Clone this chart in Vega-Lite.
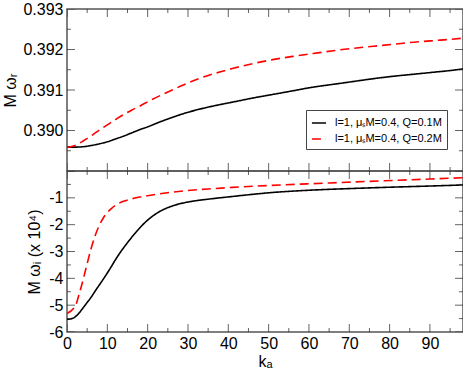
{
  "$schema": "https://vega.github.io/schema/vega-lite/v6.json",
  "padding": {"left": 2, "top": 0, "right": 1, "bottom": 0},
  "spacing": 0,
  "bounds": "flush",
  "datasets": {
    "xt": [
      {"t":0,"m":"major"},{"t":5,"m":"minor"},{"t":10,"m":"major"},{"t":15,"m":"minor"},{"t":20,"m":"major"},{"t":25,"m":"minor"},{"t":30,"m":"major"},{"t":35,"m":"minor"},{"t":40,"m":"major"},{"t":45,"m":"minor"},{"t":50,"m":"major"},{"t":55,"m":"minor"},{"t":60,"m":"major"},{"t":65,"m":"minor"},{"t":70,"m":"major"},{"t":75,"m":"minor"},{"t":80,"m":"major"},{"t":85,"m":"minor"},{"t":90,"m":"major"},{"t":95,"m":"minor"}
    ],
    "ytTop": [
      {"t":0.389,"m":"major"},{"t":0.3895,"m":"minor"},{"t":0.39,"m":"major"},{"t":0.3905,"m":"minor"},{"t":0.391,"m":"major"},{"t":0.3915,"m":"minor"},{"t":0.392,"m":"major"},{"t":0.3925,"m":"minor"},{"t":0.393,"m":"major"}
    ],
    "ytBot": [
      {"t":-6,"m":"major"},{"t":-5.5,"m":"minor"},{"t":-5,"m":"major"},{"t":-4.5,"m":"minor"},{"t":-4,"m":"major"},{"t":-3.5,"m":"minor"},{"t":-3,"m":"major"},{"t":-2.5,"m":"minor"},{"t":-2,"m":"major"},{"t":-1.5,"m":"minor"},{"t":-1,"m":"major"},{"t":-0.5,"m":"minor"},{"t":0,"m":"major"}
    ],
    "top": [
      {"k":0,"v":0.38959,"s":"l=1, μₛM=0.4, Q=0.1M"},{"k":2,"v":0.38959,"s":"l=1, μₛM=0.4, Q=0.1M"},{"k":4,"v":0.3896,"s":"l=1, μₛM=0.4, Q=0.1M"},{"k":6,"v":0.38963,"s":"l=1, μₛM=0.4, Q=0.1M"},{"k":8,"v":0.38967,"s":"l=1, μₛM=0.4, Q=0.1M"},{"k":10,"v":0.38972,"s":"l=1, μₛM=0.4, Q=0.1M"},{"k":12,"v":0.38979,"s":"l=1, μₛM=0.4, Q=0.1M"},{"k":14,"v":0.38986,"s":"l=1, μₛM=0.4, Q=0.1M"},{"k":16,"v":0.38994,"s":"l=1, μₛM=0.4, Q=0.1M"},{"k":18,"v":0.39002,"s":"l=1, μₛM=0.4, Q=0.1M"},{"k":20,"v":0.39009,"s":"l=1, μₛM=0.4, Q=0.1M"},{"k":23,"v":0.39021,"s":"l=1, μₛM=0.4, Q=0.1M"},{"k":26,"v":0.39032,"s":"l=1, μₛM=0.4, Q=0.1M"},{"k":29,"v":0.39042,"s":"l=1, μₛM=0.4, Q=0.1M"},{"k":33,"v":0.39053,"s":"l=1, μₛM=0.4, Q=0.1M"},{"k":37,"v":0.39062,"s":"l=1, μₛM=0.4, Q=0.1M"},{"k":41,"v":0.3907,"s":"l=1, μₛM=0.4, Q=0.1M"},{"k":46,"v":0.3908,"s":"l=1, μₛM=0.4, Q=0.1M"},{"k":51,"v":0.39089,"s":"l=1, μₛM=0.4, Q=0.1M"},{"k":56,"v":0.39098,"s":"l=1, μₛM=0.4, Q=0.1M"},{"k":61,"v":0.39107,"s":"l=1, μₛM=0.4, Q=0.1M"},{"k":66,"v":0.39114,"s":"l=1, μₛM=0.4, Q=0.1M"},{"k":71,"v":0.39121,"s":"l=1, μₛM=0.4, Q=0.1M"},{"k":76,"v":0.39128,"s":"l=1, μₛM=0.4, Q=0.1M"},{"k":81,"v":0.39134,"s":"l=1, μₛM=0.4, Q=0.1M"},{"k":86,"v":0.39139,"s":"l=1, μₛM=0.4, Q=0.1M"},{"k":91,"v":0.39144,"s":"l=1, μₛM=0.4, Q=0.1M"},{"k":95,"v":0.39148,"s":"l=1, μₛM=0.4, Q=0.1M"},{"k":98.2,"v":0.39152,"s":"l=1, μₛM=0.4, Q=0.1M"},
      {"k":0,"v":0.38958,"s":"l=1, μₛM=0.4, Q=0.2M"},{"k":2,"v":0.38963,"s":"l=1, μₛM=0.4, Q=0.2M"},{"k":4,"v":0.38974,"s":"l=1, μₛM=0.4, Q=0.2M"},{"k":6,"v":0.38987,"s":"l=1, μₛM=0.4, Q=0.2M"},{"k":8,"v":0.39001,"s":"l=1, μₛM=0.4, Q=0.2M"},{"k":10,"v":0.39014,"s":"l=1, μₛM=0.4, Q=0.2M"},{"k":12,"v":0.39027,"s":"l=1, μₛM=0.4, Q=0.2M"},{"k":14,"v":0.39039,"s":"l=1, μₛM=0.4, Q=0.2M"},{"k":16,"v":0.3905,"s":"l=1, μₛM=0.4, Q=0.2M"},{"k":18,"v":0.3906,"s":"l=1, μₛM=0.4, Q=0.2M"},{"k":21,"v":0.39076,"s":"l=1, μₛM=0.4, Q=0.2M"},{"k":25,"v":0.39095,"s":"l=1, μₛM=0.4, Q=0.2M"},{"k":29,"v":0.39113,"s":"l=1, μₛM=0.4, Q=0.2M"},{"k":33,"v":0.39129,"s":"l=1, μₛM=0.4, Q=0.2M"},{"k":37,"v":0.39142,"s":"l=1, μₛM=0.4, Q=0.2M"},{"k":41,"v":0.39153,"s":"l=1, μₛM=0.4, Q=0.2M"},{"k":46,"v":0.39165,"s":"l=1, μₛM=0.4, Q=0.2M"},{"k":51,"v":0.39175,"s":"l=1, μₛM=0.4, Q=0.2M"},{"k":56,"v":0.39183,"s":"l=1, μₛM=0.4, Q=0.2M"},{"k":61,"v":0.3919,"s":"l=1, μₛM=0.4, Q=0.2M"},{"k":66,"v":0.39197,"s":"l=1, μₛM=0.4, Q=0.2M"},{"k":71,"v":0.39203,"s":"l=1, μₛM=0.4, Q=0.2M"},{"k":76,"v":0.39208,"s":"l=1, μₛM=0.4, Q=0.2M"},{"k":81,"v":0.39213,"s":"l=1, μₛM=0.4, Q=0.2M"},{"k":86,"v":0.39218,"s":"l=1, μₛM=0.4, Q=0.2M"},{"k":91,"v":0.39222,"s":"l=1, μₛM=0.4, Q=0.2M"},{"k":95,"v":0.39225,"s":"l=1, μₛM=0.4, Q=0.2M"},{"k":98.2,"v":0.39228,"s":"l=1, μₛM=0.4, Q=0.2M"}
    ],
    "bot": [
      {"k":0,"v":-5.53,"s":"l=1, μₛM=0.4, Q=0.1M"},{"k":1,"v":-5.51,"s":"l=1, μₛM=0.4, Q=0.1M"},{"k":2,"v":-5.44,"s":"l=1, μₛM=0.4, Q=0.1M"},{"k":3,"v":-5.29,"s":"l=1, μₛM=0.4, Q=0.1M"},{"k":4,"v":-5.1,"s":"l=1, μₛM=0.4, Q=0.1M"},{"k":5,"v":-4.9,"s":"l=1, μₛM=0.4, Q=0.1M"},{"k":6,"v":-4.7,"s":"l=1, μₛM=0.4, Q=0.1M"},{"k":7,"v":-4.47,"s":"l=1, μₛM=0.4, Q=0.1M"},{"k":8,"v":-4.25,"s":"l=1, μₛM=0.4, Q=0.1M"},{"k":9,"v":-4.03,"s":"l=1, μₛM=0.4, Q=0.1M"},{"k":10,"v":-3.8,"s":"l=1, μₛM=0.4, Q=0.1M"},{"k":11,"v":-3.56,"s":"l=1, μₛM=0.4, Q=0.1M"},{"k":12,"v":-3.31,"s":"l=1, μₛM=0.4, Q=0.1M"},{"k":13,"v":-3.08,"s":"l=1, μₛM=0.4, Q=0.1M"},{"k":14,"v":-2.87,"s":"l=1, μₛM=0.4, Q=0.1M"},{"k":15,"v":-2.67,"s":"l=1, μₛM=0.4, Q=0.1M"},{"k":16,"v":-2.48,"s":"l=1, μₛM=0.4, Q=0.1M"},{"k":17,"v":-2.3,"s":"l=1, μₛM=0.4, Q=0.1M"},{"k":18,"v":-2.13,"s":"l=1, μₛM=0.4, Q=0.1M"},{"k":19,"v":-1.97,"s":"l=1, μₛM=0.4, Q=0.1M"},{"k":20,"v":-1.83,"s":"l=1, μₛM=0.4, Q=0.1M"},{"k":22,"v":-1.6,"s":"l=1, μₛM=0.4, Q=0.1M"},{"k":24,"v":-1.43,"s":"l=1, μₛM=0.4, Q=0.1M"},{"k":26,"v":-1.31,"s":"l=1, μₛM=0.4, Q=0.1M"},{"k":28,"v":-1.22,"s":"l=1, μₛM=0.4, Q=0.1M"},{"k":31,"v":-1.13,"s":"l=1, μₛM=0.4, Q=0.1M"},{"k":35,"v":-1.05,"s":"l=1, μₛM=0.4, Q=0.1M"},{"k":41,"v":-0.95,"s":"l=1, μₛM=0.4, Q=0.1M"},{"k":46,"v":-0.87,"s":"l=1, μₛM=0.4, Q=0.1M"},{"k":51,"v":-0.8,"s":"l=1, μₛM=0.4, Q=0.1M"},{"k":56,"v":-0.75,"s":"l=1, μₛM=0.4, Q=0.1M"},{"k":61,"v":-0.71,"s":"l=1, μₛM=0.4, Q=0.1M"},{"k":71,"v":-0.65,"s":"l=1, μₛM=0.4, Q=0.1M"},{"k":81,"v":-0.6,"s":"l=1, μₛM=0.4, Q=0.1M"},{"k":90,"v":-0.56,"s":"l=1, μₛM=0.4, Q=0.1M"},{"k":98.2,"v":-0.52,"s":"l=1, μₛM=0.4, Q=0.1M"},
      {"k":0,"v":-5.31,"s":"l=1, μₛM=0.4, Q=0.2M"},{"k":2.2,"v":-4.98,"s":"l=1, μₛM=0.4, Q=0.2M"},{"k":3,"v":-4.6,"s":"l=1, μₛM=0.4, Q=0.2M"},{"k":4,"v":-4.05,"s":"l=1, μₛM=0.4, Q=0.2M"},{"k":5,"v":-3.45,"s":"l=1, μₛM=0.4, Q=0.2M"},{"k":6,"v":-2.88,"s":"l=1, μₛM=0.4, Q=0.2M"},{"k":7,"v":-2.4,"s":"l=1, μₛM=0.4, Q=0.2M"},{"k":8,"v":-2.03,"s":"l=1, μₛM=0.4, Q=0.2M"},{"k":9,"v":-1.75,"s":"l=1, μₛM=0.4, Q=0.2M"},{"k":10,"v":-1.55,"s":"l=1, μₛM=0.4, Q=0.2M"},{"k":11,"v":-1.4,"s":"l=1, μₛM=0.4, Q=0.2M"},{"k":12,"v":-1.28,"s":"l=1, μₛM=0.4, Q=0.2M"},{"k":14,"v":-1.13,"s":"l=1, μₛM=0.4, Q=0.2M"},{"k":16,"v":-1.04,"s":"l=1, μₛM=0.4, Q=0.2M"},{"k":18,"v":-0.97,"s":"l=1, μₛM=0.4, Q=0.2M"},{"k":20,"v":-0.92,"s":"l=1, μₛM=0.4, Q=0.2M"},{"k":23,"v":-0.85,"s":"l=1, μₛM=0.4, Q=0.2M"},{"k":26,"v":-0.79,"s":"l=1, μₛM=0.4, Q=0.2M"},{"k":29,"v":-0.74,"s":"l=1, μₛM=0.4, Q=0.2M"},{"k":35,"v":-0.67,"s":"l=1, μₛM=0.4, Q=0.2M"},{"k":41,"v":-0.61,"s":"l=1, μₛM=0.4, Q=0.2M"},{"k":50,"v":-0.54,"s":"l=1, μₛM=0.4, Q=0.2M"},{"k":61,"v":-0.47,"s":"l=1, μₛM=0.4, Q=0.2M"},{"k":71,"v":-0.41,"s":"l=1, μₛM=0.4, Q=0.2M"},{"k":81,"v":-0.35,"s":"l=1, μₛM=0.4, Q=0.2M"},{"k":90,"v":-0.3,"s":"l=1, μₛM=0.4, Q=0.2M"},{"k":98.2,"v":-0.25,"s":"l=1, μₛM=0.4, Q=0.2M"}
    ]
  },
  "vconcat": [
    {
      "width": 396,
      "height": 162,
      "layer": [
        {
          "data": {"name": "top"},
          "mark": {"type": "line", "strokeWidth": 1.6, "clip": true, "interpolate": "monotone"},
          "encoding": {
            "x": {"field": "k", "type": "quantitative", "scale": {"domain": [0, 98.2], "nice": false, "zero": false}, "axis": null},
            "y": {"field": "v", "type": "quantitative", "scale": {"domain": [0.389, 0.393], "nice": false, "zero": false},
              "axis": {"orient": "left", "title": "M ωᵣ", "titlePadding": 4, "values": [0.39,0.391,0.392,0.393], "format": ".3f", "ticks": false, "labelPadding": 4}},
            "color": {"field": "s", "type": "nominal", "scale": {"range": ["#000000", "#ff0000"]},
              "legend": {"orient": "none", "legendX": 239, "legendY": 101, "title": null}},
            "strokeDash": {"field": "s", "type": "nominal", "scale": {"range": [[1, 0], [9, 5]]},
              "legend": {"orient": "none", "legendX": 239, "legendY": 101, "title": null}}
          }
        },
        {
          "data": {"name": "xt"},
          "mark": {"type": "tick", "orient": "vertical", "clip": true, "thickness": 1, "color": "#222222"},
          "encoding": {
            "x": {"field": "t", "type": "quantitative", "axis": null},
            "y": {"datum": 0.389, "type": "quantitative", "axis": null},
            "size": {"field": "m", "type": "ordinal", "scale": {"domain": ["major", "minor"], "range": [16, 8]}, "legend": null}
          }
        },
        {
          "data": {"name": "xt"},
          "mark": {"type": "tick", "orient": "vertical", "clip": true, "thickness": 1, "color": "#222222"},
          "encoding": {
            "x": {"field": "t", "type": "quantitative", "axis": null},
            "y": {"datum": 0.393, "type": "quantitative", "axis": null},
            "size": {"field": "m", "type": "ordinal", "scale": {"domain": ["major", "minor"], "range": [16, 8]}, "legend": null}
          }
        },
        {
          "data": {"name": "ytTop"},
          "mark": {"type": "tick", "orient": "horizontal", "clip": true, "thickness": 1, "color": "#222222"},
          "encoding": {
            "y": {"field": "t", "type": "quantitative", "axis": null},
            "x": {"datum": 0, "type": "quantitative", "axis": null},
            "size": {"field": "m", "type": "ordinal", "scale": {"domain": ["major", "minor"], "range": [16, 8]}, "legend": null}
          }
        },
        {
          "data": {"name": "ytTop"},
          "mark": {"type": "tick", "orient": "horizontal", "clip": true, "thickness": 1, "color": "#222222"},
          "encoding": {
            "y": {"field": "t", "type": "quantitative", "axis": null},
            "x": {"datum": 98.2, "type": "quantitative", "axis": null},
            "size": {"field": "m", "type": "ordinal", "scale": {"domain": ["major", "minor"], "range": [16, 8]}, "legend": null}
          }
        }
      ],
      "resolve": {"axis": {"x": "independent", "y": "independent"}}
    },
    {
      "width": 396,
      "height": 161,
      "layer": [
        {
          "data": {"name": "bot"},
          "mark": {"type": "line", "strokeWidth": 1.6, "clip": true, "interpolate": "monotone"},
          "encoding": {
            "x": {"field": "k", "type": "quantitative", "scale": {"domain": [0, 98.2], "nice": false, "zero": false},
              "axis": {"orient": "bottom", "title": "kₐ", "titlePadding": 2, "labelPadding": 3, "ticks": false, "values": [0,10,20,30,40,50,60,70,80,90]}},
            "y": {"field": "v", "type": "quantitative", "scale": {"domain": [-6, 0], "nice": false, "zero": false},
              "axis": {"orient": "left", "title": "M ωᵢ (x 10⁴)", "titlePadding": 6, "values": [-6,-5,-4,-3,-2,-1], "labelExpr": "'' + datum.value", "ticks": false, "labelPadding": 4}},
            "color": {"field": "s", "type": "nominal", "scale": {"range": ["#000000", "#ff0000"]}, "legend": null},
            "strokeDash": {"field": "s", "type": "nominal", "scale": {"range": [[1, 0], [9, 5]]}, "legend": null}
          }
        },
        {
          "data": {"name": "xt"},
          "mark": {"type": "tick", "orient": "vertical", "clip": true, "thickness": 1, "color": "#222222"},
          "encoding": {
            "x": {"field": "t", "type": "quantitative", "axis": null},
            "y": {"datum": -6, "type": "quantitative", "axis": null},
            "size": {"field": "m", "type": "ordinal", "scale": {"domain": ["major", "minor"], "range": [16, 8]}, "legend": null}
          }
        },
        {
          "data": {"name": "xt"},
          "mark": {"type": "tick", "orient": "vertical", "clip": true, "thickness": 1, "color": "#222222"},
          "encoding": {
            "x": {"field": "t", "type": "quantitative", "axis": null},
            "y": {"datum": 0, "type": "quantitative", "axis": null},
            "size": {"field": "m", "type": "ordinal", "scale": {"domain": ["major", "minor"], "range": [16, 8]}, "legend": null}
          }
        },
        {
          "data": {"name": "ytBot"},
          "mark": {"type": "tick", "orient": "horizontal", "clip": true, "thickness": 1, "color": "#222222"},
          "encoding": {
            "y": {"field": "t", "type": "quantitative", "axis": null},
            "x": {"datum": 0, "type": "quantitative", "axis": null},
            "size": {"field": "m", "type": "ordinal", "scale": {"domain": ["major", "minor"], "range": [16, 8]}, "legend": null}
          }
        },
        {
          "data": {"name": "ytBot"},
          "mark": {"type": "tick", "orient": "horizontal", "clip": true, "thickness": 1, "color": "#222222"},
          "encoding": {
            "y": {"field": "t", "type": "quantitative", "axis": null},
            "x": {"datum": 98.2, "type": "quantitative", "axis": null},
            "size": {"field": "m", "type": "ordinal", "scale": {"domain": ["major", "minor"], "range": [16, 8]}, "legend": null}
          }
        }
      ],
      "resolve": {"axis": {"x": "independent", "y": "independent"}}
    }
  ],
  "resolve": {"scale": {"color": "independent", "strokeDash": "independent"}},
  "config": {
    "font": "Liberation Sans",
    "view": {"stroke": "#555555", "strokeWidth": 1.5},
    "axis": {
      "labelFont": "Liberation Sans", "labelFontSize": 16, "labelColor": "#000000",
      "titleFont": "Liberation Sans", "titleFontSize": 16, "titleFontWeight": "normal", "titleColor": "#000000",
      "domain": false, "grid": false,
      "labelFlush": false, "labelOverlap": false, "labelBound": false, "minExtent": 0
    },
    "legend": {
      "fillColor": "#ffffff", "strokeColor": "#444444", "padding": 5, "cornerRadius": 0,
      "labelFont": "Liberation Sans", "labelFontSize": 11, "labelColor": "#000000", "labelLimit": 0, "labelOffset": 8,
      "symbolType": "stroke", "symbolSize": 200, "symbolStrokeWidth": 1.6, "rowPadding": 3
    }
  }
}
